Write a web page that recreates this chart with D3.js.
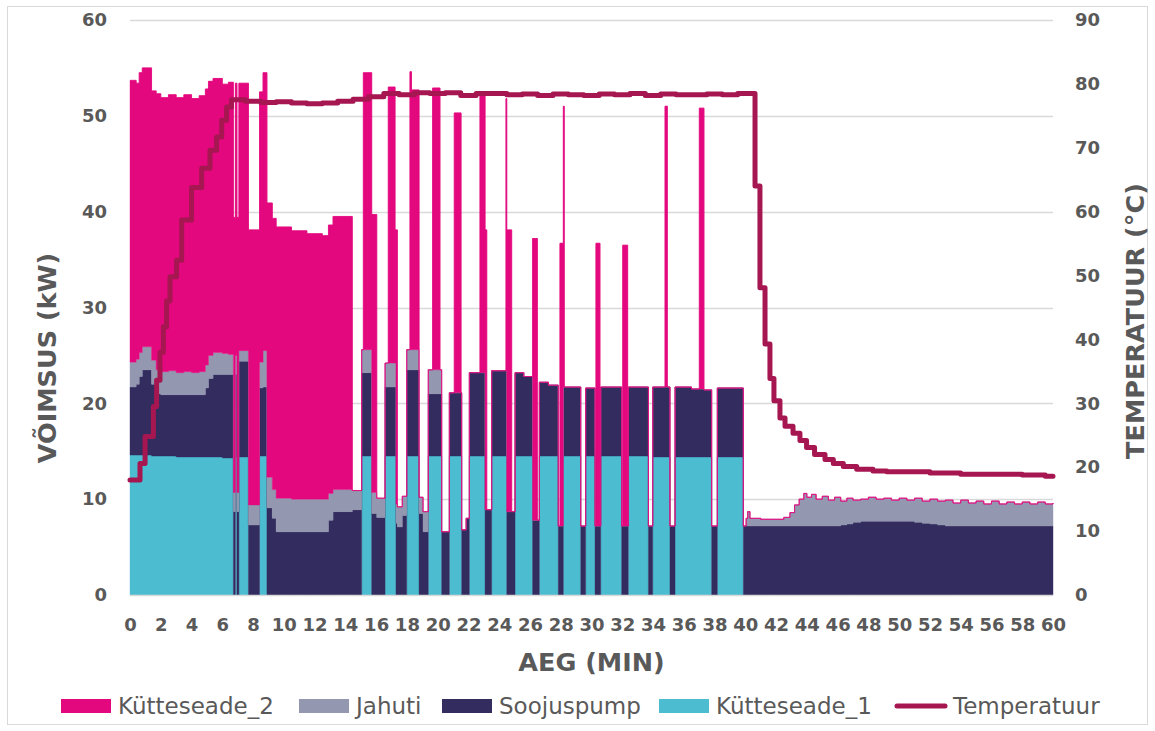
<!DOCTYPE html>
<html><head><meta charset="utf-8">
<script src="https://cdn.jsdelivr.net/npm/d3@7"></script>
<style>body{margin:0;background:#fff}svg{display:block}</style>
</head><body>
<svg id="chart" width="1155" height="731"></svg>
<script>
// ---- DATA (minutes, kW, °C) ----
const times = [
 0,0.4,0.6,0.8,1.4,1.7,2,2.5,3,3.5,
 4,4.5,4.9,5.1,5.4,6,6.4,6.72,6.85,6.95,
 7.08,7.7,8.42,8.65,8.9,9.25,9.5,10.5,11.5,12.5,
 12.9,13.2,14.45,15.06,15.17,15.71,16.04,16.58,16.79,17.23,
 17.29,17.38,17.7,17.99,18.2,18.3,18.79,19.05,19.39,19.67,
 20.15,20.26,20.76,21.08,21.52,21.56,21.85,22.06,22.75,23.08,
 23.19,23.51,24.44,24.49,24.81,25.03,25.6,26.17,26.48,26.61,
 27.2,27.84,27.95,28.17,28.23,29.3,29.62,30.23,30.29,30.55,
 30.6,31.96,32.03,32.35,32.39,33.7,33.98,34.78,34.93,35.1,
 35.43,36.5,37.01,37.31,37.81,38.18,39.87,40.05,40.15,40.3,
 41,42.5,42.9,43.2,43.5,43.8,44,44.3,44.6,45,
 45.4,45.8,46.2,46.6,47,47.5,48,48.5,49,49.5,
 50,50.5,51,51.5,52,52.5,53,53.5,54,54.5,
 55,55.5,56,56.5,57,57.5,58,58.5,59,59.5,60];

const kutteseade1 = [
 14.6,14.6,14.6,14.6,14.5,14.5,14.5,14.5,14.4,14.4,
 14.4,14.4,14.4,14.4,14.4,14.3,14.3,0,14.4,0,
 14.4,0,14.5,14.5,0,0,0,0,0,0,
 0,0,0,14.5,14.5,0,0,14.5,14.5,14.5,
 0,0,0,14.5,14.5,14.5,0,0,14.5,14.5,
 14.5,0,14.5,14.5,14.5,0,0,14.5,14.5,0,
 0,14.5,14.5,0,0,14.5,14.5,0,0,14.5,
 14.5,0,0,14.5,14.5,0,14.5,0,0,0,
 14.5,0,0,0,14.5,0,14.4,14.4,14.4,0,
 14.4,14.4,14.4,14.4,0,14.4,0,0,0,0,
 0,0,0,0,0,0,0,0,0,0,
 0,0,0,0,0,0,0,0,0,0,
 0,0,0,0,0,0,0,0,0,0,
 0,0,0,0,0,0,0,0,0,0,0];

const soojuspump = [
 7.1,7.4,8.2,8.9,7.5,6.5,6.4,6.4,6.5,6.5,
 6.5,6.5,7.2,8.2,8.6,8.7,8.7,8.7,8.6,8.7,
 10.0,7.3,7.1,7.2,9.1,8.0,6.6,6.6,6.6,6.6,
 7.8,8.7,8.9,8.7,8.7,8.5,8.1,7.2,7.2,7.2,
 7.5,7.1,8.3,9.0,9.0,9.0,8.5,6.6,6.5,6.5,
 6.5,6.6,6.6,6.6,6.6,6.8,8.0,8.7,8.7,8.9,
 8.9,8.9,8.9,8.7,8.7,8.7,8.3,7.8,7.8,7.7,
 7.4,7.2,7.2,7.2,7.2,7.2,7.1,7.2,7.2,7.2,
 7.2,7.2,7.2,7.2,7.2,7.2,7.3,7.3,7.3,7.2,
 7.3,7.1,7.1,7.0,7.2,7.2,7.2,7.2,7.2,7.2,
 7.2,7.2,7.2,7.2,7.2,7.2,7.2,7.2,7.2,7.2,
 7.2,7.2,7.3,7.4,7.6,7.7,7.7,7.7,7.7,7.7,
 7.7,7.7,7.6,7.5,7.4,7.3,7.2,7.2,7.2,7.2,
 7.2,7.2,7.2,7.2,7.2,7.2,7.2,7.2,7.2,7.2,7.2];

const jahuti = [
 2.6,2.6,2.5,2.4,2.5,2.5,2.4,2.5,2.3,2.4,
 2.3,2.4,2.4,2.4,2.3,2.2,2.1,2.0,2.0,2.0,
 1.1,2.1,2.7,3.8,3.2,3.0,3.5,3.4,3.4,3.4,
 2.8,2.3,2.0,2.4,2.4,2.2,2.0,2.5,2.5,2.5,
 2.0,2.1,2.0,2.1,2.1,2.1,1.7,2.1,2.5,2.5,
 2.5,0,0,0,0,0,0,0,0,0,
 0,0,0,0,0,0,0,0,0,0,
 0,0,0,0,0,0,0,0,0,0,
 0,0,0,0,0,0,0,0,0,0,
 0,0,0,0,0,0,0,0.8,1.5,0.8,
 0.7,0.9,1.4,2.2,2.8,3.4,3.0,3.3,2.8,3.1,
 2.7,3.0,2.5,2.7,2.3,2.3,2.5,2.3,2.4,2.2,
 2.4,2.2,2.5,2.3,2.6,2.5,2.7,2.4,2.7,2.4,
 2.6,2.3,2.6,2.3,2.5,2.3,2.5,2.3,2.5,2.3,2.4];

const kutteseade2 = [
 29.4,28.8,29.2,29.1,28.1,28.8,28.6,28.8,28.7,28.9,
 28.6,28.8,28.8,28.6,28.6,28.1,28.4,28.7,28.4,28.7,
 27.9,28.7,28.2,29.0,28.6,28.3,28.3,28.0,27.7,27.5,
 28.0,28.5,0,0,28.9,29.0,0,0,28.8,13.9,
 28.6,0,0,0,29.0,27.1,0,0,0,29.4,
 0,0,0,29.2,0,0,0,0,29.2,29.2,
 0,0,28.4,29.4,0,0,0,29.4,0,0,
 0,0,29.5,29.3,0,0,0,0,29.5,0,
 0,0,29.3,0,0,0,0,29.3,0,0,
 0,0,29.3,0,0,0,0,0,0,0,
 0,0,0,0,0,0,0,0,0,0,
 0,0,0,0,0,0,0,0,0,0,
 0,0,0,0,0,0,0,0,0,0,
 0,0,0,0,0,0,0,0,0,0,0];

const tempTimes = [0,0.65,0.98,1.52,1.73,1.95,2.17,2.38,2.6,3.03,3.36,4.0,4.66,5.2,5.63,5.96,6.28,6.6,
 7.5,8.5,9.5,10.5,11.5,12.5,13.5,14.5,15.5,16.5,17.5,18.5,19.5,20.5,21.5,22.5,23.5,24.5,25.5,26.5,27.5,
 28.5,29.5,30.5,31.5,32.5,33.5,34.5,35.5,36.5,37.5,38.5,39.5,
 40.63,40.95,41.28,41.6,41.86,42.25,42.58,43.1,43.55,43.98,44.5,45.18,45.72,46.37,47.24,48.3,49.2,
 52,54,56,58,59.5,60];
const temperature = [18.0,20.6,24.8,29.5,33.6,38.0,42.0,46.0,49.8,52.4,58.7,63.8,66.8,69.6,71.7,74.3,76.4,77.5,
 77.3,77.1,77.2,77.0,76.9,77.0,77.3,77.6,78.0,78.5,78.3,78.6,78.5,78.6,78.2,78.5,78.5,78.3,78.4,78.2,78.4,
 78.3,78.2,78.4,78.3,78.5,78.2,78.4,78.3,78.3,78.4,78.3,78.5,
 64.0,48.1,39.3,33.9,30.4,27.7,26.4,25.3,24.2,23.1,22.0,21.2,20.6,20.1,19.7,19.4,19.3,
 19.1,18.9,18.9,18.8,18.6,18.6];

const timeTicks = [0,2,4,6,8,10,12,14,16,18,20,22,24,26,28,30,32,34,36,38,40,42,44,46,48,50,52,54,56,58,60];
const powerTicks = [0,10,20,30,40,50,60];
const tempTicks = [0,10,20,30,40,50,60,70,80,90];
const seriesKeys = ["Kütteseade_1","Soojuspump","Jahuti","Kütteseade_2"];
const legendItems = ["Kütteseade_2","Jahuti","Soojuspump","Kütteseade_1","Temperatuur"];
const colors = {"Kütteseade_2":"#E4087E","Jahuti":"#9397B0","Soojuspump":"#332C5F","Kütteseade_1":"#4CBCD1","Temperatuur":"#A61650"};

// ---- CHART ----
const svg = d3.select("#chart");
const M = {left:130, right:1053, top:20, bottom:595};
const x = d3.scaleLinear().domain([0,60]).range([M.left, M.right]);
const yP = d3.scaleLinear().domain([0,60]).range([M.bottom, M.top]);
const yT = d3.scaleLinear().domain([0,90]).range([M.bottom, M.top]);
const textColor = "#595959";
const fontFam = "'DejaVu Sans', Verdana, sans-serif";

svg.append("rect").attr("x",7.5).attr("y",6.5).attr("width",1140).attr("height",718)
  .attr("fill","#fff").attr("stroke","#D9D9D9").attr("stroke-width",1);

// gridlines
svg.append("g").selectAll("line").data(powerTicks.filter(d=>d>0)).join("line")
  .attr("x1",M.left).attr("x2",M.right).attr("y1",d=>Math.round(yP(d))+0.5).attr("y2",d=>Math.round(yP(d))+0.5)
  .attr("stroke","#D9D9D9").attr("stroke-width",1.3);

const rows = times.map((t,i)=>({t, "Kütteseade_1":kutteseade1[i], "Soojuspump":soojuspump[i], "Jahuti":jahuti[i], "Kütteseade_2":kutteseade2[i]}));
const stacked = d3.stack().keys(seriesKeys)(rows);

const area = d3.area().curve(d3.curveStepAfter)
  .x(d=>x(d.data.t)).y0(d=>yP(d[0])).y1(d=>yP(d[1]));
svg.append("g").selectAll("path").data(stacked).join("path")
  .attr("d",area).attr("fill",d=>colors[d.key]).attr("stroke",d=>colors[d.key]).attr("stroke-width",0.4);

// thin pink outline on top of stack
const topLine = d3.line().curve(d3.curveStepAfter).x(d=>x(d.data.t)).y(d=>yP(d[1]));
svg.append("path").datum(stacked[3]).attr("d",topLine).attr("fill","none")
  .attr("stroke",colors["Kütteseade_2"]).attr("stroke-width",1).attr("opacity",0.8);

// axis baseline
svg.append("line").attr("x1",M.left).attr("x2",M.right).attr("y1",M.bottom+0.5).attr("y2",M.bottom+0.5)
  .attr("stroke","#D9D9D9").attr("stroke-width",1.5);

// temperature line
const tData = tempTimes.map((t,i)=>({t, v:temperature[i]}));
const tLine = d3.line().curve(d3.curveStepAfter).x(d=>x(d.t)).y(d=>yT(d.v));
svg.append("path").datum(tData).attr("d",tLine).attr("fill","none")
  .attr("stroke",colors["Temperatuur"]).attr("stroke-width",5)
  .attr("stroke-linejoin","round").attr("stroke-linecap","round");

// axes
function styleAxis(g){
  g.select(".domain").remove();
  g.selectAll("text").attr("fill",textColor).style("font-family",fontFam)
   .style("font-weight","bold").style("font-size","18px");
}
svg.append("g").attr("transform",`translate(0,${M.bottom})`)
  .call(d3.axisBottom(x).tickValues(timeTicks).tickSize(0).tickPadding(23).tickFormat(d3.format("d")))
  .call(styleAxis);
svg.append("g").attr("transform",`translate(${M.left},0)`)
  .call(d3.axisLeft(yP).tickValues(powerTicks).tickSize(0).tickPadding(23).tickFormat(d3.format("d")))
  .call(styleAxis);
svg.append("g").attr("transform",`translate(${M.right},0)`)
  .call(d3.axisRight(yT).tickValues(tempTicks).tickSize(0).tickPadding(22).tickFormat(d3.format("d")))
  .call(styleAxis);

// titles
const titleStyle = s => s.attr("fill",textColor).style("font-family",fontFam)
  .style("font-weight","bold").style("font-size","25.5px").attr("text-anchor","middle");
svg.append("text").attr("x",(M.left+M.right)/2).attr("y",671).text("AEG (MIN)").call(titleStyle);
svg.append("text").attr("transform","translate(56,358) rotate(-90)").text("VÕIMSUS (kW)").call(titleStyle);
svg.append("text").attr("transform","translate(1144,321) rotate(-90)").text("TEMPERATUUR (°C)").call(titleStyle);

// legend
const legendX = [61, 299, 442, 659, 894];
const lg = svg.append("g");
legendItems.forEach((name,i)=>{
  const x0 = legendX[i];
  if(name==="Temperatuur"){
    lg.append("line").attr("x1",x0+3).attr("x2",x0+51).attr("y1",706).attr("y2",706)
      .attr("stroke",colors[name]).attr("stroke-width",5).attr("stroke-linecap","round");
    lg.append("text").attr("x",x0+59).attr("y",714).text(name);
  } else {
    lg.append("rect").attr("x",x0).attr("y",699).attr("width",50).attr("height",14).attr("fill",colors[name]);
    lg.append("text").attr("x",x0+57).attr("y",714).text(name);
  }
});
lg.selectAll("text").attr("fill",textColor).style("font-family",fontFam).style("font-size","23px");
</script>
</body></html>
